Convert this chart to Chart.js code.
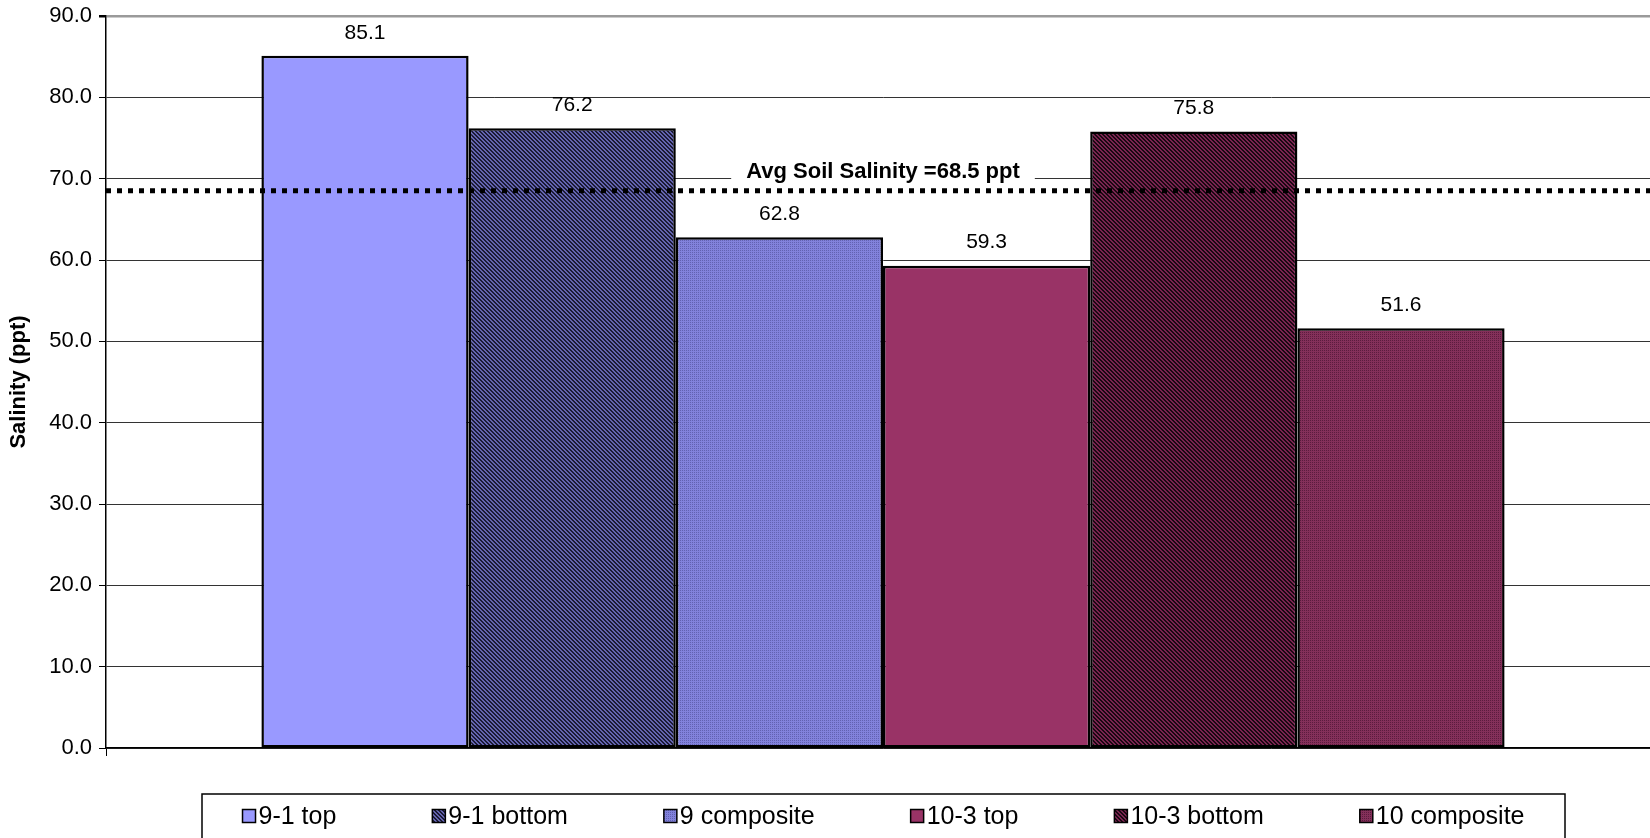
<!DOCTYPE html>
<html>
<head>
<meta charset="utf-8">
<script src="https://cdn.jsdelivr.net/npm/chart.js@4/dist/chart.umd.min.js"></script>
<style>
  html, body { margin: 0; padding: 0; background: #fff; overflow: hidden; }
  #wrap { width: 1660px; height: 838px; }
</style>
</head>
<body>
<div id="wrap"><canvas id="chart" width="1660" height="838"></canvas></div>
<script>
// Soil salinity per sample
const sampleLabels = ['9-1 top', '9-1 bottom', '9 composite', '10-3 top', '10-3 bottom', '10 composite'];
const salinity = [85.1, 76.2, 62.8, 59.3, 75.8, 51.6];
const baseColors = ['#9999FF', '#6464b0', '#8282dc', '#993366', '#7a2450', '#84305a'];
const inkColors = [null, '#1a1a34', '#6262b2', null, '#1a0812', '#5c1c3e'];
const fillKinds = ['solid', 'diagonal', 'dots', 'solid', 'diagonal', 'dots'];
const avgSalinity = 68.5;
const avgText = 'Avg Soil Salinity =68.5 ppt';
const yTitle = 'Salinity (ppt)';
const yMin = 0, yMax = 90, yStep = 10;

const FONT = "'Liberation Sans', Arial, sans-serif";

// Small repeating tiles imitating spreadsheet pattern fills
function makeFill(color, ink, kind) {
  if (kind === 'solid') return color;
  const tile = document.createElement('canvas');
  tile.width = 4; tile.height = 4;
  const g = tile.getContext('2d');
  g.fillStyle = color;
  g.fillRect(0, 0, 4, 4);
  g.fillStyle = ink;
  for (let y = 0; y < 4; y++) {
    for (let x = 0; x < 4; x++) {
      const on = kind === 'diagonal' ? ((x - y + 8) % 4 < 2) : (x % 2 === 0 && y % 2 === 0);
      if (on) g.fillRect(x, y, 1, 1);
    }
  }
  return g.createPattern(tile, 'repeat');
}

const fills = baseColors.map((c, i) => makeFill(c, inkColors[i], fillKinds[i]));

// Value printed above each bar
const valueLabels = {
  id: 'valueLabels',
  afterDatasetsDraw(chart) {
    const ctx = chart.ctx;
    ctx.save();
    ctx.font = '21px ' + FONT;
    ctx.fillStyle = '#000';
    ctx.textAlign = 'center';
    ctx.textBaseline = 'middle';
    chart.data.datasets.forEach((ds, i) => {
      const el = chart.getDatasetMeta(i).data[0];
      ctx.fillText(ds.data[0].toFixed(1), el.x, el.y - 23);
    });
    ctx.restore();
  }
};

// Dotted average line with its caption
const averageLine = {
  id: 'averageLine',
  afterDatasetsDraw(chart) {
    const { ctx, chartArea: a, scales } = chart;
    const y = scales.y.getPixelForValue(avgSalinity);
    ctx.save();
    ctx.font = 'bold 22px ' + FONT;
    const w = ctx.measureText(avgText).width;
    const cx = (a.left + a.right) / 2;
    const ty = y - 19;
    ctx.fillStyle = '#fff';
    ctx.fillRect(cx - w / 2 - 15, ty - 12, w + 30, 24);
    ctx.fillStyle = '#000';
    ctx.textAlign = 'center';
    ctx.textBaseline = 'middle';
    ctx.fillText(avgText, cx, ty);

    ctx.beginPath();
    ctx.setLineDash([5, 6]);
    ctx.lineWidth = 5;
    ctx.lineCap = 'butt';
    ctx.strokeStyle = '#000';
    ctx.moveTo(a.left, y);
    ctx.lineTo(a.right, y);
    ctx.stroke();
    ctx.restore();
  }
};

// Boxed legend under the plot
const boxedLegend = {
  id: 'boxedLegend',
  afterDraw(chart) {
    const ctx = chart.ctx;
    const boxL = 202, boxR = 1565, boxT = 794;
    const sw = 13, gap = 3, spacing = 96;
    ctx.save();
    ctx.lineWidth = 1.5;
    ctx.strokeStyle = '#000';
    ctx.strokeRect(boxL, boxT, boxR - boxL, 80);
    ctx.font = '25px ' + FONT;
    const widths = chart.data.datasets.map(ds => ctx.measureText(ds.label).width);
    const total = widths.reduce((s, w) => s + sw + gap + w, 0) + spacing * (widths.length - 1);
    let x = (boxL + boxR) / 2 - total / 2;
    const cy = 816;
    chart.data.datasets.forEach((ds, i) => {
      ctx.fillStyle = ds.backgroundColor;
      ctx.fillRect(x, cy - sw / 2, sw, sw);
      ctx.lineWidth = 1.5;
      ctx.strokeRect(x, cy - sw / 2, sw, sw);
      ctx.fillStyle = '#000';
      ctx.textAlign = 'left';
      ctx.textBaseline = 'middle';
      ctx.fillText(ds.label, x + sw + gap, cy + 1);
      x += sw + gap + widths[i] + spacing;
    });
    ctx.restore();
  }
};

new Chart(document.getElementById('chart'), {
  type: 'bar',
  data: {
    labels: [''],
    datasets: sampleLabels.map((label, i) => ({
      label,
      data: [salinity[i]],
      backgroundColor: fills[i],
      borderColor: '#000',
      borderWidth: 2.5,
      borderSkipped: false,
      categoryPercentage: 0.8,
      barPercentage: 1.0
    }))
  },
  options: {
    responsive: false,
    animation: false,
    devicePixelRatio: 1,
    layout: { padding: { left: 0, right: 0, top: 16, bottom: 0 } },
    plugins: { legend: { display: false }, tooltip: { enabled: false } },
    scales: {
      x: {
        type: 'category',
        grid: { drawOnChartArea: false, drawTicks: true, tickLength: 8, color: '#000', offset: true },
        ticks: { display: false },
        border: { color: '#000', width: 1.5 },
        afterFit(scale) { scale.height = 90; }
      },
      y: {
        min: yMin,
        max: yMax,
        ticks: {
          stepSize: yStep,
          padding: 7,
          color: '#000',
          font: { family: FONT, size: 22 },
          callback: v => Number(v).toFixed(1)
        },
        grid: {
          color: c => (c.tick && c.tick.value === yMax) ? '#9a9a9a' : '#333333',
          lineWidth: c => (c.tick && c.tick.value === yMax) ? 2.5 : 1,
          tickColor: '#000',
          tickLength: 7
        },
        border: { color: '#000', width: 1.5 },
        title: {
          display: true,
          text: yTitle,
          color: '#000',
          font: { family: FONT, size: 22, weight: 'bold' },
          padding: { top: 6, bottom: 0 }
        },
        afterFit(scale) {
          scale.width = 106;
          scale.paddingTop = 0;
          scale.paddingBottom = 0;
        }
      }
    }
  },
  plugins: [valueLabels, averageLine, boxedLegend]
});
</script>
</body>
</html>
